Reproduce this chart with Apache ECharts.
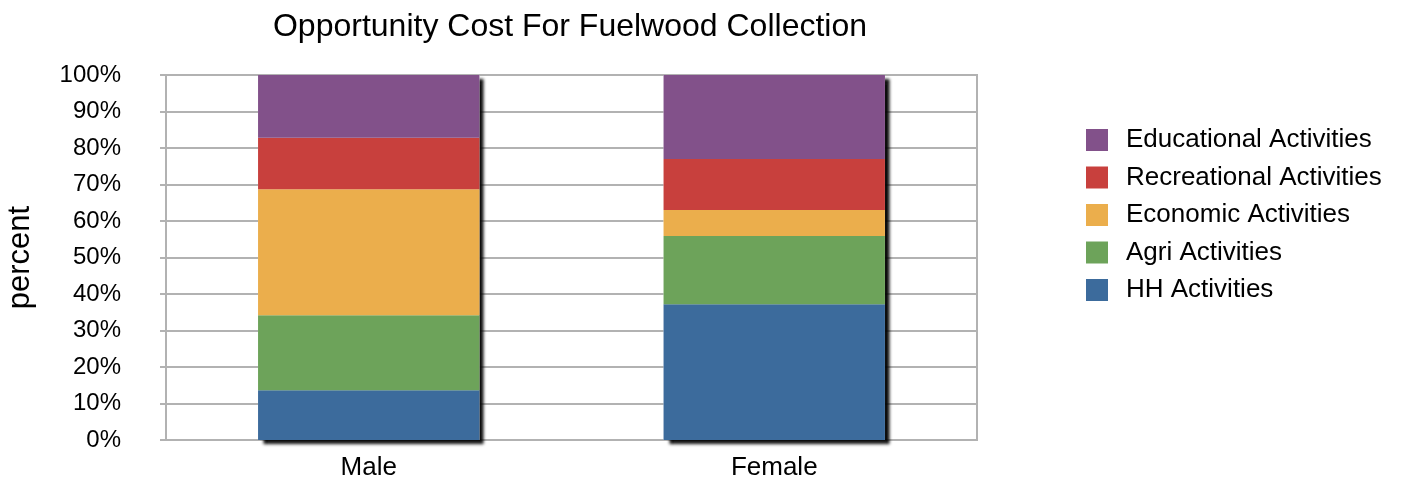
<!DOCTYPE html>
<html>
<head>
<meta charset="utf-8">
<script src="https://cdn.jsdelivr.net/npm/echarts@6/dist/echarts.min.js"></script>
<style>
  html, body { margin: 0; padding: 0; background: #fff; }
  #chart { width: 1405px; height: 481px; }
</style>
</head>
<body>
<div id="chart"></div>
<script>
// Share of time each activity gives up to fuelwood collection, by gender (percent)
const categories = ['Male', 'Female'];
const hhActivities = [13.6, 37.2];
const agriActivities = [20.6, 18.7];
const economicActivities = [34.5, 7.1];
const recreationalActivities = [14.1, 14.0];
const educationalActivities = [17.2, 23.0];
const yTickLabels = ['0%', '10%', '20%', '30%', '40%', '50%', '60%', '70%', '80%', '90%', '100%'];

const FONT = '"Liberation Sans", Arial, Helvetica, sans-serif';

const seriesDefs = [
  { name: 'HH Activities', data: hhActivities, color: '#3c6b9c' },
  { name: 'Agri Activities', data: agriActivities, color: '#6da35a' },
  { name: 'Economic Activities', data: economicActivities, color: '#ebae4c' },
  { name: 'Recreational Activities', data: recreationalActivities, color: '#c8403d' },
  { name: 'Educational Activities', data: educationalActivities, color: '#82518a' }
];

// Column totals: a backing bar of this height carries the drop shadow for each stack
const totals = categories.map((_, i) => seriesDefs.reduce((sum, s) => sum + s.data[i], 0));

const BAR_WIDTH = '54.6%';

const chart = echarts.init(document.getElementById('chart'), null, { renderer: 'canvas' });

const stacked = seriesDefs.map(s => ({
  name: s.name,
  type: 'bar',
  stack: 'total',
  data: s.data,
  z: 5,
  barWidth: BAR_WIDTH,
  barGap: '-100%',
  itemStyle: { color: s.color },
  emphasis: { disabled: true }
}));

const shadowBar = {
  name: 'shadow',
  type: 'bar',
  data: totals,
  z: 1,
  barWidth: BAR_WIDTH,
  barGap: '-100%',
  silent: true,
  itemStyle: {
    color: '#ffffff',
    shadowColor: 'rgba(0,0,0,0.95)',
    shadowBlur: 3,
    shadowOffsetX: 5,
    shadowOffsetY: 4
  },
  emphasis: { disabled: true }
};

chart.setOption({
  animation: false,
  backgroundColor: '#ffffff',
  title: {
    text: 'Opportunity Cost For Fuelwood Collection',
    left: 565,
    textAlign: 'center',
    top: 6,
    textStyle: { fontFamily: FONT, fontSize: 32, fontWeight: 'normal', color: '#000' }
  },
  legend: {
    orient: 'vertical',
    left: 1086,
    top: 127,
    padding: 0,
    itemWidth: 22,
    itemHeight: 22,
    itemGap: 11.5,
    icon: 'rect',
    data: seriesDefs.map(s => s.name).reverse(),
    textStyle: { fontFamily: FONT, fontSize: 26, color: '#000', padding: [0, 0, 0, 13] }
  },
  grid: {
    left: 166,
    right: 1405 - 977,
    top: 75,
    bottom: 481 - 440,
    containLabel: false,
    outerBoundsMode: 'none',
    show: true,
    borderColor: '#b2b2b2',
    borderWidth: 2,
    backgroundColor: 'transparent'
  },
  xAxis: {
    type: 'category',
    data: categories,
    axisLine: { show: true, lineStyle: { color: '#b2b2b2', width: 2 } },
    axisTick: { show: false },
    axisLabel: { fontFamily: FONT, fontSize: 26, color: '#000', margin: 15 }
  },
  yAxis: {
    type: 'value',
    min: 0,
    max: 100,
    interval: 10,
    name: 'percent',
    nameLocation: 'middle',
    nameGap: 130,
    nameRotate: 90,
    nameTextStyle: { fontFamily: FONT, fontSize: 31, color: '#000' },
    axisLine: { show: true, lineStyle: { color: '#b2b2b2', width: 2 } },
    axisTick: { show: true, inside: false, length: 6, lineStyle: { color: '#b2b2b2', width: 2 } },
    splitLine: { show: true, lineStyle: { color: '#b2b2b2', width: 2 } },
    axisLabel: {
      fontFamily: FONT,
      fontSize: 24,
      color: '#000',
      margin: 45,
      align: 'right',
      formatter: v => yTickLabels[Math.round(v / 10)]
    }
  },
  series: [shadowBar].concat(stacked)
});
</script>
</body>
</html>
